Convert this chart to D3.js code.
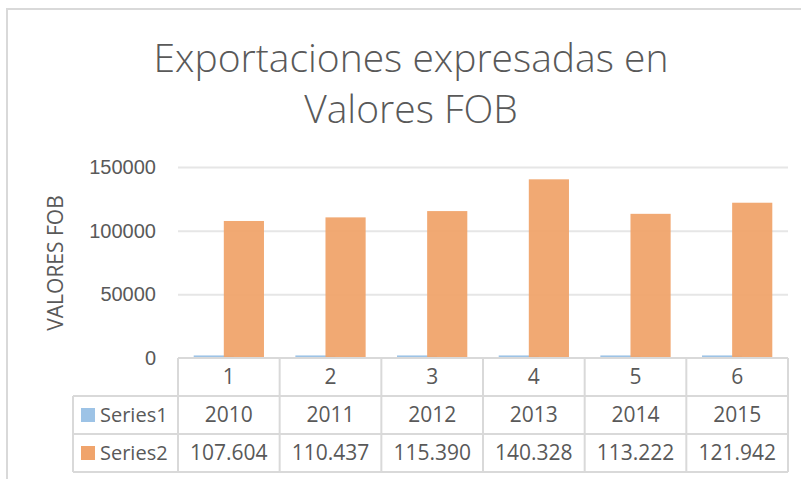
<!DOCTYPE html>
<html>
<head>
<meta charset="utf-8">
<script src="https://cdn.jsdelivr.net/npm/d3@7"></script>
<style>
  body { margin: 0; background: #fff; }
  svg { display: block; font-family: "Open Sans", "Noto Sans", sans-serif; }
  .tick text { fill: #595959; font-size: 20px; }
</style>
</head>
<body>
<svg id="chart" width="801" height="479"></svg>
<script>
// chart data
const categories = ["1", "2", "3", "4", "5", "6"];
const seriesNames = ["Series1", "Series2"];
const series1 = [2010, 2011, 2012, 2013, 2014, 2015];
const series2 = [107604, 110437, 115390, 140328, 113222, 121942];
const yTicks = [0, 50000, 100000, 150000];

const colors = ["#9DC3E6", "#F0A46C"];
const textColor = "#595959";
const lineColor = "#D9D9D9";

const svg = d3.select("#chart");

// outer chart frame (cut off at right and bottom like the picture)
svg.append("rect")
  .attr("x", 7).attr("y", 9)
  .attr("width", 820).attr("height", 500)
  .attr("fill", "#fff")
  .attr("stroke", lineColor)
  .attr("stroke-width", 2);

// title
const title = svg.append("text")
  .attr("text-anchor", "middle")
  .attr("fill", textColor)
  .style("font-size", "39px")
  .style("font-weight", 300);
title.append("tspan").attr("x", 411).attr("y", 72).text("Exportaciones expresadas en");
title.append("tspan").attr("x", 411).attr("y", 123).text("Valores FOB");

const plot = { left: 178, right: 788, top: 167, bottom: 358 };

const x = d3.scaleBand()
  .domain(categories)
  .range([plot.left, plot.right])
  .padding(0);

const y = d3.scaleLinear()
  .domain([0, 150000])
  .range([plot.bottom, plot.top]);

// gridlines
svg.append("g")
  .attr("transform", "translate(" + plot.left + ",0)")
  .call(d3.axisLeft(y).tickValues(yTicks.slice(1)).tickSize(-(plot.right - plot.left)).tickFormat(""))
  .call(g => g.select(".domain").remove())
  .call(g => g.selectAll("line").attr("stroke", "#E6E6E6").attr("stroke-width", 2));

// y axis labels
svg.append("g")
  .attr("transform", "translate(156,0)")
  .call(d3.axisLeft(y).tickValues(yTicks).tickSize(0).tickPadding(0).tickFormat(d3.format("d")))
  .call(g => g.select(".domain").remove());

// y axis title
svg.append("text")
  .attr("transform", "translate(63,263) rotate(-90)")
  .attr("text-anchor", "middle")
  .attr("fill", textColor)
  .style("font-size", "21px")
  .text("VALORES FOB");

// bars: two series, overlapping a bit like excel
const barW = x.bandwidth() * 0.395;
const step = barW * 0.75;
const groupW = barW + step;
const allSeries = [series1, series2];

allSeries.forEach((vals, si) => {
  svg.append("g")
    .selectAll("rect")
    .data(vals)
    .join("rect")
    .attr("x", (d, i) => x(categories[i]) + (x.bandwidth() - groupW) / 2 + si * step)
    .attr("y", d => y(d))
    .attr("width", barW)
    .attr("height", d => y(0) - y(d))
    .attr("fill", colors[si])
    .attr("opacity", si === 1 ? 0.95 : 1);
});

// data table
const rowTop = [358, 396, 434, 472];
const labelLeft = 73;
const fmt = d3.formatLocale({ decimal: ",", thousands: ".", grouping: [3], currency: ["", ""] }).format(",d");
const table = svg.append("g");

const hLine = (x1, x2, yy) => table.append("line")
  .attr("x1", x1).attr("x2", x2).attr("y1", yy).attr("y2", yy)
  .attr("stroke", lineColor).attr("stroke-width", 2);
const vLine = (xx, y1, y2) => table.append("line")
  .attr("x1", xx).attr("x2", xx).attr("y1", y1).attr("y2", y2)
  .attr("stroke", lineColor).attr("stroke-width", 2);

hLine(plot.left, plot.right, rowTop[0]);
hLine(labelLeft, plot.right, rowTop[1]);
hLine(labelLeft, plot.right, rowTop[2]);
hLine(labelLeft, plot.right, rowTop[3]);
vLine(labelLeft, rowTop[1], rowTop[3]);
categories.forEach(c => vLine(x(c), rowTop[0], rowTop[3]));
vLine(plot.right, rowTop[0], rowTop[3]);

const rows = [categories, series1.map(String), series2.map(fmt)];
rows.forEach((vals, r) => {
  table.append("g")
    .selectAll("text")
    .data(vals)
    .join("text")
    .attr("x", (d, i) => x(categories[i]) + x.bandwidth() / 2)
    .attr("y", (rowTop[r] + rowTop[r + 1]) / 2)
    .attr("dy", "0.35em")
    .attr("text-anchor", "middle")
    .attr("fill", textColor)
    .style("font-size", "21px")
    .text(d => d);
});

// legend keys inside the table
seriesNames.forEach((name, si) => {
  const cy = (rowTop[si + 1] + rowTop[si + 2]) / 2;
  table.append("rect")
    .attr("x", 81).attr("y", cy - 7)
    .attr("width", 14).attr("height", 14)
    .attr("fill", colors[si]);
  table.append("text")
    .attr("x", 100).attr("y", cy)
    .attr("dy", "0.35em")
    .attr("fill", textColor)
    .style("font-size", "20px")
    .text(name);
});
</script>
</body>
</html>
